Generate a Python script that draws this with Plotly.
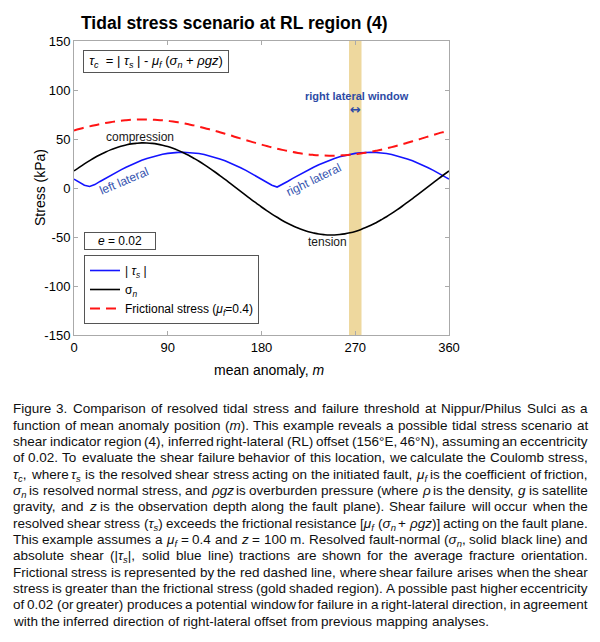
import re
import plotly.graph_objects as go

# ---------------- data ----------------
mean_anomaly = list(range(0, 361, 5))

sigma_n = [17.4, 21.1, 24.6, 27.9, 31.1, 33.9, 36.5, 38.9, 40.9, 42.6, 43.9, 45.0,
           45.6, 46.0, 45.9, 45.5, 44.8, 43.7, 42.3, 40.5, 38.4, 36.0, 33.4, 30.4,
           27.3, 23.9, 20.3, 16.6, 12.7, 8.8, 4.7, 0.6, -3.5, -7.5, -11.6, -15.5,
           -19.4, -23.1, -26.6, -29.9, -33.1, -35.9, -38.5, -40.9, -42.9, -44.6, -45.9, -47.0,
           -47.6, -48.0, -47.9, -47.5, -46.8, -45.7, -44.3, -42.5, -40.4, -38.0, -35.4, -32.4,
           -29.3, -25.9, -22.3, -18.6, -14.7, -10.8, -6.7, -2.6, 1.5, 5.5, 9.6, 13.5, 17.4]

tau_s_abs = [9.1, 6.0, 2.9, 1.6, 3.5, 6.7, 9.8, 12.8, 15.7, 18.5, 21.2, 23.7,
             26.0, 28.2, 30.1, 31.8, 33.2, 34.4, 35.3, 36.0, 36.4, 36.5, 36.3, 35.9,
             35.2, 34.2, 32.9, 31.4, 29.7, 27.8, 25.6, 23.2, 20.7, 18.0, 15.1, 12.2,
             9.1, 6.0, 2.9, 1.0, 3.5, 6.7, 9.8, 12.8, 15.7, 18.5, 21.2, 23.7,
             26.0, 28.2, 30.1, 31.8, 33.2, 34.4, 35.3, 36.0, 36.4, 36.5, 36.3, 35.9,
             35.2, 34.2, 32.9, 31.4, 29.7, 27.8, 25.6, 23.2, 20.7, 18.0, 15.1, 12.2, 9.1]

frictional = [58.7, 60.2, 61.6, 62.9, 64.1, 65.2, 66.3, 67.2, 68.0, 68.7, 69.2, 69.6,
              69.9, 70.0, 70.0, 69.8, 69.5, 69.1, 68.5, 67.8, 67.0, 66.1, 65.0, 63.9,
              62.6, 61.3, 59.9, 58.4, 56.9, 55.3, 53.8, 52.1, 50.5, 48.9, 47.3, 45.8,
              44.3, 42.8, 41.4, 40.1, 38.9, 37.8, 36.7, 35.8, 35.0, 34.3, 33.8, 33.4,
              33.1, 33.0, 33.0, 33.2, 33.5, 33.9, 34.5, 35.2, 36.0, 36.9, 38.0, 39.1,
              40.4, 41.7, 43.1, 44.6, 46.1, 47.7, 49.2, 50.9, 52.5, 54.1, 55.7, 57.2, 58.7]

window_range = [264, 276]
x_tick_vals = [0, 90, 180, 270, 360]
y_tick_vals = [-150, -100, -50, 0, 50, 100, 150]
y_tick_text = ["-150", "-100", "-50", "0", "50", "100", "150"]

caption_lines = [
    "Figure 3. Comparison of resolved tidal stress and failure threshold at Nippur/Philus Sulci as a",
    "function of mean anomaly position (<i>m</i>). This example reveals a possible tidal stress scenario at",
    "shear indicator region (4), inferred right-lateral (RL) offset (156°E, 46°N), assuming an eccentricity",
    "of 0.02. To evaluate the shear failure behavior of this location, we calculate the Coulomb stress,",
    "<i>τ<sub>c</sub></i>, where <i>τ<sub>s</sub></i> is the resolved shear stress acting on the initiated fault, <i>μ<sub>f</sub></i> is the coefficient of friction,",
    "<i>σ<sub>n</sub></i> is resolved normal stress, and <i>ρgz</i> is overburden pressure (where <i>ρ</i> is the density, <i>g</i> is satellite",
    "gravity, and <i>z</i> is the observation depth along the fault plane). Shear failure will occur when the",
    "resolved shear stress (<i>τ<sub>s</sub></i>) exceeds the frictional resistance [<i>μ<sub>f</sub></i> (<i>σ<sub>n</sub></i> + <i>ρgz</i>)] acting on the fault plane.",
    "This example assumes a <i>μ<sub>f</sub></i> = 0.4 and <i>z</i> = 100 m. Resolved fault-normal (<i>σ<sub>n</sub></i>, solid black line) and",
    "absolute shear (|<i>τ<sub>s</sub></i>|, solid blue line) tractions are shown for the average fracture orientation.",
    "Frictional stress is represented by the red dashed line, where shear failure arises when the shear",
    "stress is greater than the frictional stress (gold shaded region). A possible past higher eccentricity",
    "of 0.02 (or greater) produces a potential window for failure in a right-lateral direction, in agreement",
    "with the inferred direction of right-lateral offset from previous mapping analyses.",
]

# ---------------- geometry helpers ----------------
# the page has an 8px body margin, so the figure is made 16px smaller than the window
PAGE_OFF = 8
FIG_W, FIG_H = 584, 626
PLOT_L, PLOT_R, PLOT_T, PLOT_B = 74, 449, 41, 335   # plot area in page pixels
L = PLOT_L - PAGE_OFF
T = PLOT_T - PAGE_OFF
R = FIG_W - (PLOT_R - PAGE_OFF)
B = FIG_H - (PLOT_B - PAGE_OFF)
PW, PH = PLOT_R - PLOT_L, PLOT_B - PLOT_T


def px(xpage):
    return (xpage - PLOT_L) / PW


def py(ypage):
    return (PLOT_B - ypage) / PH


FONT = "Liberation Sans, Arial, Helvetica, sans-serif"

ARIAL_W = {' ': 278, '!': 278, '"': 355, '#': 556, '$': 556, '%': 889, '&': 667, "'": 191,
           '(': 333, ')': 333, '*': 389, '+': 584, ',': 278, '-': 333, '.': 278, '/': 278,
           ':': 278, ';': 278, '<': 584, '=': 584, '>': 584, '?': 556, '[': 278, ']': 278,
           '|': 260, '°': 400, 'τ': 430, 'σ': 570, 'μ': 576, 'ρ': 570,
           'A': 667, 'B': 667, 'C': 722, 'D': 722, 'E': 667, 'F': 611, 'G': 778, 'H': 722,
           'I': 278, 'J': 500, 'K': 667, 'L': 556, 'M': 833, 'N': 722, 'O': 778, 'P': 667,
           'Q': 778, 'R': 722, 'S': 667, 'T': 611, 'U': 722, 'V': 667, 'W': 944, 'X': 667,
           'Y': 667, 'Z': 611,
           'a': 556, 'b': 556, 'c': 500, 'd': 556, 'e': 556, 'f': 278, 'g': 556, 'h': 556,
           'i': 222, 'j': 222, 'k': 500, 'l': 222, 'm': 833, 'n': 556, 'o': 556, 'p': 556,
           'q': 556, 'r': 333, 's': 500, 't': 278, 'u': 556, 'v': 500, 'w': 722, 'x': 500,
           'y': 500, 'z': 500}
for d in "0123456789":
    ARIAL_W[d] = 556


def text_width(s, size):
    total = 0.0
    sub = False
    for tok in re.split(r'(<[^>]+>)', s):
        if tok.startswith('<'):
            if tok == '<sub>':
                sub = True
            elif tok == '</sub>':
                sub = False
            continue
        for ch in tok:
            total += ARIAL_W.get(ch, 556) * (0.7 if sub else 1.0)
    return total * size / 1000.0


def label(xpage, ypage, text, size, color="black", family=FONT, angle=0, **kw):
    d = dict(x=px(xpage), y=py(ypage), xref="paper", yref="paper", showarrow=False,
             xanchor="center", yanchor="middle", text=text, textangle=angle,
             font=dict(family=family, size=size, color=color))
    d.update(kw)
    return d


# ---------------- figure ----------------
fig = go.Figure()

fig.add_trace(go.Scatter(x=mean_anomaly, y=tau_s_abs, mode="lines",
                         name="| <i>τ<sub>s</sub></i> |",
                         line=dict(color="rgb(20,20,255)", width=1.6)))
fig.add_trace(go.Scatter(x=mean_anomaly, y=sigma_n, mode="lines",
                         name="σ<sub><i>n</i></sub>",
                         line=dict(color="black", width=1.6, shape="spline")))
fig.add_trace(go.Scatter(x=mean_anomaly, y=frictional, mode="lines",
                         name="Frictional stress (<i>μ<sub>f</sub></i>=0.4)",
                         line=dict(color="rgb(255,20,20)", width=2, dash="10px,6px", shape="spline")))

fig.add_shape(type="rect", xref="x", yref="paper", x0=window_range[0], x1=window_range[1],
              y0=0, y1=1, fillcolor="rgb(238,216,158)", line=dict(width=0), layer="below")

annos = []
annos.append(label(156.3, 61.3,
                   "<i>τ<sub>c</sub></i>  = | <i>τ<sub>s</sub></i> | - <i>μ<sub>f</sub></i> (<i>σ<sub>n</sub></i> + <i>ρgz</i>)",
                   13, bordercolor="#555", borderwidth=1, borderpad=2, width=140, height=17,
                   bgcolor="white"))
annos.append(label(119.9, 241.3, "<i>e</i> = 0.02", 12, bordercolor="#555", borderwidth=1,
                   borderpad=2, width=66, height=12, bgcolor="white"))
annos.append(label(356.5, 95.7, "<b>right lateral window</b>", 11, color="rgb(45,75,165)"))
annos.append(label(355, 109.5, "<b>↔</b>", 13, color="rgb(45,75,165)", family="DejaVu Sans"))
annos.append(label(140, 137, "compression", 12, color="rgb(25,25,25)"))
annos.append(label(327, 242, "tension", 12, color="rgb(25,25,25)"))
annos.append(label(124, 181, "left lateral", 12, color="rgb(55,85,175)", angle=-23))
annos.append(label(313, 180, "right lateral", 12, color="rgb(55,85,175)", angle=-26))
annos.append(label(40, 188, "Stress (kPa)", 14, angle=-90))
annos.append(label(269.7, 370, "mean anomaly, <i>m</i>", 14))

# caption, justified word by word
CAP_SIZE = 13.5
CAP_LEFT, CAP_RIGHT = 13, 588
for i, line in enumerate(caption_lines):
    words = line.split(" ")
    widths = [text_width(w, CAP_SIZE) for w in words]
    if i < len(caption_lines) - 1 and len(words) > 1:
        gap = (CAP_RIGHT - CAP_LEFT - sum(widths)) / (len(words) - 1)
    else:
        gap = text_width(" ", CAP_SIZE)
    yc = 409.3 + i * 16.34
    xcur = CAP_LEFT
    for w, wd in zip(words, widths):
        annos.append(dict(x=px(xcur), y=py(yc - 8), xref="paper", yref="paper",
                          xanchor="left", yanchor="top", showarrow=False, text=w,
                          borderpad=0, borderwidth=0,
                          font=dict(family=FONT, size=CAP_SIZE, color="rgb(15,15,15)")))
        xcur += wd + gap

fig.update_layout(
    width=FIG_W, height=FIG_H,
    margin=dict(l=L, r=R, t=T, b=B, autoexpand=False),
    paper_bgcolor="white", plot_bgcolor="white",
    title=dict(text="<b>Tidal stress scenario at RL region (4)</b>",
               x=(81 - PAGE_OFF) / FIG_W, xref="container", xanchor="left",
               y=1 - (23 - PAGE_OFF) / FIG_H, yref="container", yanchor="middle",
               font=dict(family=FONT, size=17.5, color="black")),
    showlegend=True,
    legend=dict(x=px(84), y=py(255), xref="paper", yref="paper", xanchor="left", yanchor="top",
                bordercolor="#555", borderwidth=1, bgcolor="white",
                font=dict(family=FONT, size=12, color="black"), tracegroupgap=0,
                itemwidth=30),
    annotations=annos,
    xaxis=dict(range=[0, 360], tickvals=x_tick_vals, ticks="inside", ticklen=4,
               tickcolor="#aaa", showline=True, linecolor="#aaa", linewidth=1, mirror="ticks",
               showgrid=False, zeroline=False,
               tickfont=dict(family=FONT, size=13, color="black")),
    yaxis=dict(range=[-150, 150], tickvals=y_tick_vals, ticktext=y_tick_text, ticks="inside",
               ticklen=4, tickcolor="#aaa", showline=True, linecolor="#aaa", linewidth=1,
               mirror="ticks", showgrid=False, zeroline=False,
               tickfont=dict(family=FONT, size=13, color="black")),
)

fig.write_html("out.html")
